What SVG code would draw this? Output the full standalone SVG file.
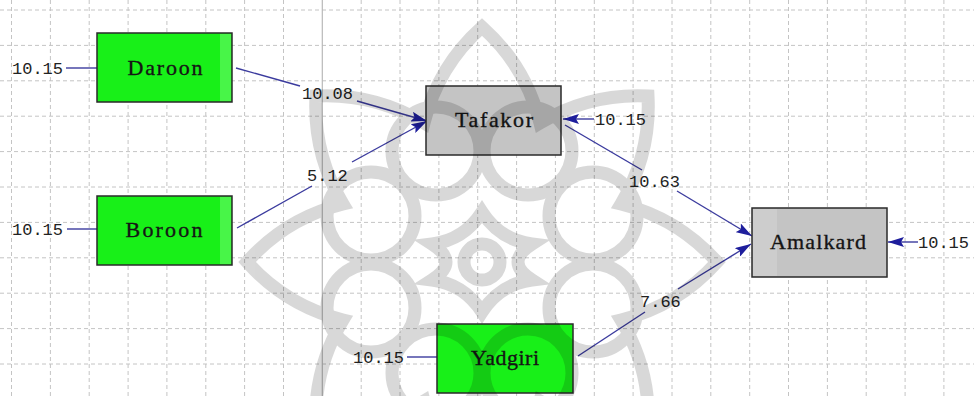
<svg xmlns="http://www.w3.org/2000/svg" width="974" height="396" viewBox="0 0 974 396">
  <style>
    .grid { stroke: #c4c4c4; stroke-width: 1; stroke-dasharray: 4 3; fill: none; }
    .axis { stroke: #b8b8b8; stroke-width: 1.2; fill: none; }
    .exo { fill: #18f018; stroke: #2a2a2a; stroke-width: 1.5; }
    .exo-edge { fill: #48f548; }
    .endo { fill: #c4c4c4; stroke: #2a2a2a; stroke-width: 1.5; }
    .endo-edge { fill: #cdcdcd; }
    .name { font-family: "Liberation Serif", "Times New Roman", serif; font-size: 22px; fill: #151515; stroke: #151515; stroke-width: 0.35; text-anchor: middle; }
    .num { font-family: "Liberation Mono", "Courier New", monospace; font-size: 17px; fill: #222; }
    .path { stroke: #3b3b9e; stroke-width: 1.4; fill: none; }
    .path-arr { stroke: #3b3b9e; stroke-width: 1.4; fill: none; marker-end: url(#head); }
    .mark { fill: none; stroke: #000; stroke-width: 13; }
  </style>
  <defs>
    <marker id="head" viewBox="0 0 16 10" refX="16" refY="5" markerWidth="16" markerHeight="10" markerUnits="userSpaceOnUse" orient="auto">
      <path d="M0,0 L16,5 L0,10 L3,5 Z" fill="#1e1e9c"/>
    </marker>
  </defs>

  <rect width="974" height="396" fill="#ffffff"/>

  <!-- dashed background grid -->
  <g id="grid">
    <path class="grid" d="M11.5,0V396 M50.4,0V396 M89.2,0V396 M128.1,0V396 M166.9,0V396 M205.8,0V396 M244.6,0V396 M283.5,0V396 M361.2,0V396 M400,0V396 M438.9,0V396 M477.7,0V396 M516.6,0V396 M555.4,0V396 M594.3,0V396 M633.1,0V396 M672,0V396 M710.8,0V396 M749.7,0V396 M788.5,0V396 M827.4,0V396 M866.2,0V396 M905.1,0V396 M943.9,0V396"/>
    <path class="grid" d="M0,10H974 M0,45.4H974 M0,80.8H974 M0,116.2H974 M0,151.6H974 M0,187H974 M0,222.4H974 M0,257.8H974 M0,293.2H974 M0,328.6H974 M0,364H974"/>
    <path class="axis" d="M322.3,0V396"/>
  </g>

  <!-- path connectors with coefficient labels -->
  <g id="connectors">
    <path class="path" d="M236,68 L300,86"/>
    <path class="path-arr" d="M357,101 L427,121"/>
    <text class="num" x="302" y="99">10.08</text>

    <path class="path" d="M237,228 L312,186"/>
    <path class="path-arr" d="M352,162 L427,121"/>
    <text class="num" x="307" y="181">5.12</text>

    <path class="path" d="M565,125 L642,170"/>
    <path class="path-arr" d="M677,191 L752,236"/>
    <text class="num" x="629" y="187">10.63</text>

    <path class="path" d="M578,356 L645,312"/>
    <path class="path-arr" d="M678,289 L751,244"/>
    <text class="num" x="640" y="307">7.66</text>

    <!-- error terms -->
    <path class="path" d="M66,68 L97,68"/>
    <text class="num" x="12" y="74">10.15</text>
    <path class="path" d="M67,229 L97,229"/>
    <text class="num" x="12" y="235">10.15</text>
    <path class="path" d="M407,357 L437,357"/>
    <text class="num" x="353" y="363">10.15</text>
    <path class="path-arr" d="M594,119 L563,119"/>
    <text class="num" x="595" y="125">10.15</text>
    <path class="path-arr" d="M918,242 L888,242"/>
    <text class="num" x="918" y="248">10.15</text>
  </g>

  <g id="daroon">
    <rect class="exo" x="97" y="33" width="135" height="69"/>
    <rect class="exo-edge" x="220" y="34" width="11" height="67"/>
    <text class="name" x="165" y="75" textLength="75" lengthAdjust="spacing">Daroon</text>
  </g>
  <g id="boroon">
    <rect class="exo" x="97" y="196" width="135" height="69"/>
    <rect class="exo-edge" x="220" y="197" width="11" height="67"/>
    <text class="name" x="164" y="237" textLength="77" lengthAdjust="spacing">Boroon</text>
  </g>
  <g id="yadgiri">
    <rect class="exo" x="437" y="324" width="136" height="69"/>
    <text class="name" x="505" y="365" textLength="68" lengthAdjust="spacing">Yadgiri</text>
  </g>
  <g id="tafakor">
    <rect class="endo" x="426" y="86" width="135" height="69"/>
    <text class="name" x="494" y="127" textLength="78" lengthAdjust="spacing">Tafakor</text>
  </g>
  <g id="amalkard">
    <rect class="endo" x="752" y="208" width="135" height="69"/>
    <rect class="endo-edge" x="753" y="209" width="24" height="67"/>
    <text class="name" x="818" y="249" textLength="96" lengthAdjust="spacing">Amalkard</text>
  </g>

  <!-- faint ornamental rosette laid over the chart -->
  <g id="rosette" opacity="0.15">
    <path class="mark" d="M621,204 A190,190 0 0 1 717,262 A190,190 0 0 1 621,320 A190,190 0 0 1 648,428 A190,190 0 0 1 540,401 A190,190 0 0 1 482,497 A190,190 0 0 1 424,401 A190,190 0 0 1 316,428 A190,190 0 0 1 343,320 A190,190 0 0 1 247,262 A190,190 0 0 1 343,204 A190,190 0 0 1 316,96 A190,190 0 0 1 424,123 A190,190 0 0 1 482,27 A190,190 0 0 1 540,123 A190,190 0 0 1 648,96 A190,190 0 0 1 621,204 Z"/>
    <circle class="mark" cx="593" cy="308" r="44"/>
    <circle class="mark" cx="528" cy="373" r="44"/>
    <circle class="mark" cx="436" cy="373" r="44"/>
    <circle class="mark" cx="371" cy="308" r="44"/>
    <circle class="mark" cx="371" cy="216" r="44"/>
    <circle class="mark" cx="436" cy="151" r="44"/>
    <circle class="mark" cx="528" cy="151" r="44"/>
    <circle class="mark" cx="593" cy="216" r="44"/>
    <path class="mark" stroke-width="10" d="M482,212 Q500,240 532,244 Q504,262 532,280 Q500,284 482,312 Q464,284 432,280 Q460,262 432,244 Q464,240 482,212 Z"/>
    <circle class="mark" stroke-width="8" cx="482" cy="262" r="18"/>
  </g>
</svg>
